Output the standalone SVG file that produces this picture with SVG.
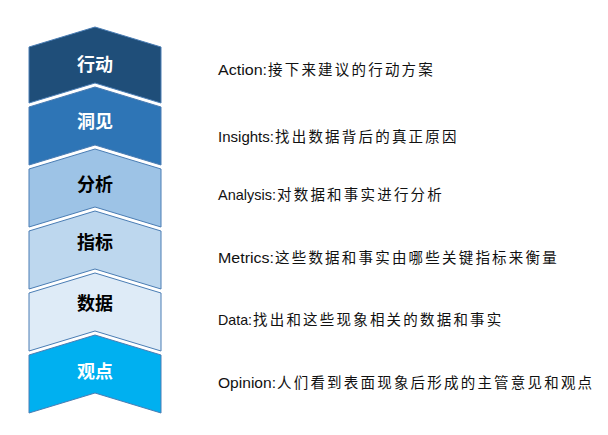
<svg xmlns="http://www.w3.org/2000/svg" width="608" height="435" viewBox="0 0 608 435">
<style>
.box{stroke:#4a7db4;stroke-width:1}
.lbl{font-family:"Noto Sans CJK SC","Liberation Sans",sans-serif;font-size:18px;font-weight:bold;text-anchor:middle}
.w{fill:#ffffff}
.k{fill:#000000}
.desc{font-family:"Liberation Sans","Noto Sans CJK SC",sans-serif;font-size:15px;fill:#111111}
.cn{font-family:"Noto Sans CJK SC",sans-serif;font-size:14.5px;letter-spacing:2.2px;fill:#111111}
</style>
<rect width="608" height="435" fill="#ffffff"/>
<g id="node-action">
<path class="box" d="M29,47 L95,27 L161,47 L161,103 L95,83 L29,103 Z" fill="#1f4e79"/>
<text class="lbl w" x="95" y="70.5">行动</text>
</g>
<g id="node-insights">
<path class="box" d="M29,107 L95,87 L161,107 L161,165 L95,145 L29,165 Z" fill="#2e75b6"/>
<text class="lbl w" x="95" y="127.5">洞见</text>
</g>
<g id="node-analysis">
<path class="box" d="M29,169 L95,149 L161,169 L161,227 L95,207 L29,227 Z" fill="#9dc3e6"/>
<text class="lbl k" x="95" y="190.5">分析</text>
</g>
<g id="node-metrics">
<path class="box" d="M29,231 L95,211 L161,231 L161,289 L95,269 L29,289 Z" fill="#bdd7ee"/>
<text class="lbl k" x="95" y="248.5">指标</text>
</g>
<g id="node-data">
<path class="box" d="M29,293 L95,273 L161,293 L161,351 L95,331 L29,351 Z" fill="#deebf7"/>
<text class="lbl k" x="95" y="309.5">数据</text>
</g>
<g id="node-opinion">
<path class="box" d="M29,355 L95,335 L161,355 L161,413 L95,393 L29,413 Z" fill="#00b0f0"/>
<text class="lbl w" x="95" y="377.5">观点</text>
</g>
<g id="connectors"></g>
<g id="descriptions">
<text class="desc" x="218" y="75" textLength="49" lengthAdjust="spacingAndGlyphs">Action:</text>
<text class="cn" x="268" y="75">接下来建议的行动方案</text>
<text class="desc" x="218" y="142" textLength="56" lengthAdjust="spacingAndGlyphs">Insights:</text>
<text class="cn" x="275" y="142">找出数据背后的真正原因</text>
<text class="desc" x="218" y="200" textLength="58" lengthAdjust="spacingAndGlyphs">Analysis:</text>
<text class="cn" x="277" y="200">对数据和事实进行分析</text>
<text class="desc" x="218" y="263" textLength="56" lengthAdjust="spacingAndGlyphs">Metrics:</text>
<text class="cn" x="275" y="263">这些数据和事实由哪些关键指标来衡量</text>
<text class="desc" x="218" y="325" textLength="34" lengthAdjust="spacingAndGlyphs">Data:</text>
<text class="cn" x="253" y="325">找出和这些现象相关的数据和事实</text>
<text class="desc" x="218" y="388" textLength="58" lengthAdjust="spacingAndGlyphs">Opinion:</text>
<text class="cn" x="277" y="388">人们看到表面现象后形成的主管意见和观点</text>
</g>
</svg>
